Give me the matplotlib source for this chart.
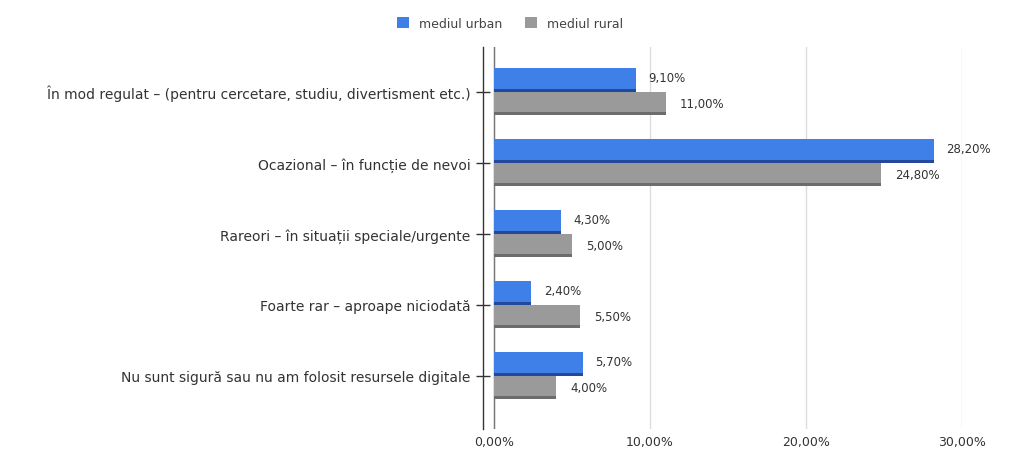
import matplotlib
matplotlib.use("Agg")
import matplotlib.pyplot as plt
import numpy as np
from matplotlib.ticker import FuncFormatter

plt.rcParams["font.family"] = ["DejaVu Sans"]

categories = [
    "În mod regulat – (pentru cercetare, studiu, divertisment etc.)",
    "Ocazional – în funcție de nevoi",
    "Rareori – în situații speciale/urgente",
    "Foarte rar – aproape niciodată",
    "Nu sunt sigură sau nu am folosit resursele digitale",
]
urban = [9.1, 28.2, 4.3, 2.4, 5.7]
rural = [11.0, 24.8, 5.0, 5.5, 4.0]
series_names = ["mediul urban", "mediul rural"]
x_ticks = [0, 10, 20, 30]

BLUE = "#3f7fe8"
BLUE_DARK = "#234a9a"
GRAY = "#9a9a9a"
GRAY_DARK = "#6c6c6c"


def pct(v, _=None):
    return f"{v:.2f}%".replace(".", ",")


fig = plt.figure(figsize=(10.19, 4.56), dpi=100)
ax = fig.add_axes([483 / 1019, 26 / 456, 479 / 1019, 382 / 456])

y = np.arange(len(categories))
h = 0.33
edge = 0.04
ax.barh(y - h / 2, urban, height=h, color=BLUE, label=series_names[0], zorder=3)
ax.barh(y + h / 2, rural, height=h, color=GRAY, label=series_names[1], zorder=3)
# darker bottom edge, like the shaded bars of the original
ax.barh(y - edge / 2, urban, height=edge, color=BLUE_DARK, zorder=4)
ax.barh(y + h - edge / 2, rural, height=edge, color=GRAY_DARK, zorder=4)

for yi, v in zip(y, urban):
    ax.text(v + 0.8, yi - h / 2 - 0.04, pct(v), va="center", ha="left",
            fontsize=8.5, color="#333333")
for yi, v in zip(y, rural):
    ax.text(v + 0.9, yi + h / 2, pct(v), va="center", ha="left",
            fontsize=8.5, color="#333333")

ax.set_xlim(-0.7, 30)
ax.set_ylim(len(categories) - 0.25, -0.63)
ax.set_xticks(x_ticks)
ax.xaxis.set_major_formatter(FuncFormatter(pct))
ax.set_yticks(y)
ax.set_yticklabels(categories)

ax.grid(axis="x", color="#dddddd", linewidth=1, zorder=0)
ax.axvline(0, color="#777777", linewidth=1, zorder=2)

for s in ["top", "right", "bottom"]:
    ax.spines[s].set_visible(False)
ax.spines["left"].set_color("#333333")
ax.spines["left"].set_linewidth(1)

ax.tick_params(axis="x", length=0, labelsize=9, colors="#333333", pad=4)
ax.tick_params(axis="y", length=10, direction="inout", width=1,
               color="#333333", labelsize=10, labelcolor="#333333", pad=4)

fig.legend(loc="upper center", bbox_to_anchor=(510 / 1019, 0.985), ncol=2,
           frameon=False, fontsize=9, handlelength=1.0, handleheight=1.0,
           columnspacing=1.8, handletextpad=0.8, labelcolor="#444444")

fig.savefig("out.png", dpi=100)
